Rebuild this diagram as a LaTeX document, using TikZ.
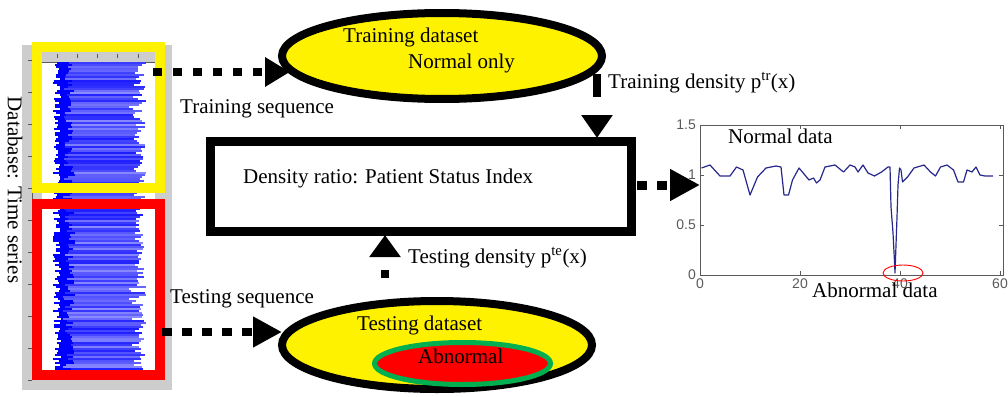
\documentclass[tikz,border=0pt]{standalone}
\usepackage{fontspec}
\setmainfont{Liberation Serif}
\newfontfamily\plotfont{Liberation Sans}
\usetikzlibrary{arrows.meta,shapes.geometric}
\definecolor{sigblue}{RGB}{40,40,140}
\definecolor{tickgray}{RGB}{90,90,90}
\definecolor{panelgray}{RGB}{205,205,205}
\definecolor{mygreen}{RGB}{0,176,80}
\begin{document}
\begin{tikzpicture}[x=1pt,y=-1pt,
  lbl/.style={anchor=base west,inner sep=0pt,font=\fontsize{21}{24}\selectfont},
  ticklbl/.style={inner sep=0pt,font=\plotfont\fontsize{14}{16}\selectfont,text=tickgray},
  dotline/.style={line width=8pt},
  blockline/.style={draw=black,line width=9pt}]
\useasboundingbox (0,0) rectangle (1008,396);

% ---------- left time-series panel ----------
\fill[panelgray] (22,45) rectangle (172,390);
\fill[white] (42,62) rectangle (155,378);
\draw[tickgray,line width=0.8pt] (42,62) -- (155,62);
\draw[tickgray,line width=0.8pt] (32,62) -- (32,380);
\foreach \yy in {60,92,...,380}{\draw[tickgray,line width=0.8pt] (28,\yy) -- (32,\yy);}
\foreach \xx in {57,77,97,117,138}{\draw[tickgray,line width=0.6pt] (\xx,54) -- (\xx,58);}
\pgfmathsetseed{5}
\foreach \yy in {63,65,...,377}{
  \pgfmathsetmacro{\xa}{53+8*rnd}
  \pgfmathsetmacro{\xb}{147-14*rnd*rnd-8*rnd}
  \pgfmathsetmacro{\xc}{63+12*rnd}
  \pgfmathtruncatemacro{\pc}{45+45*rnd}
  \draw[blue!\pc,line width=2pt] (\xa,\yy) -- (\xb,\yy);
  \draw[blue,line width=2pt] (\xa,\yy) -- (\xc,\yy);
}
\node[rotate=-90,inner sep=0pt,font=\fontsize{21}{24}\selectfont] (db) at (15,190) {Database: Time series};
\node[draw=yellow,line width=10pt,minimum width=123pt,minimum height=141pt,inner sep=0pt] (trbox) at (98.5,117.5) {};
\node[draw=red,line width=10pt,minimum width=123pt,minimum height=171pt,inner sep=0pt] (tebox) at (98.5,289.5) {};

% ---------- ellipses ----------
\node[ellipse,draw,line width=8pt,fill=yellow,minimum width=320pt,minimum height=86pt,inner sep=0pt] (trainE) at (442,56) {};
\node[lbl] (trt1) at (343,43) {Training dataset};
\node[lbl] (trt2) at (408,68) {Normal only};

\node[ellipse,draw,line width=8pt,fill=yellow,minimum width=310pt,minimum height=88pt,inner sep=0pt] (testE) at (437,345) {};
\node[ellipse,draw=mygreen,line width=5pt,fill=red,minimum width=176pt,minimum height=42pt,inner sep=0pt] (abE) at (462.5,363.5) {};
\node[lbl] (tet1) at (357,330) {Testing dataset};
\node[lbl] (tet2) at (418,363) {Abnormal};

% ---------- density ratio block ----------
\node[blockline,minimum width=421pt,minimum height=90pt,inner sep=0pt] (dr) at (420.5,186) {};
\node[lbl] (drt) at (243,183) {Density ratio: Patient Status Index};

% ---------- connectors ----------
\coordinate (c1a) at (153,72);
\coordinate (c1b) at (290,72);
\draw[dotline,dash pattern=on 9pt off 11pt,-{Triangle[length=25pt,width=28pt]}] (c1a) -- (c1b);
\node[lbl] (tseq) at (180,113) {Training sequence};

\coordinate (c2a) at (162,332);
\coordinate (c2b) at (282,332);
\draw[dotline,dash pattern=on 10pt off 10pt,-{Triangle[length=29pt,width=29pt]}] (c2a) -- (c2b);
\node[lbl] (teseq) at (170,303) {Testing sequence};

\coordinate (c3a) at (597,74);
\coordinate (c3b) at (597,138);
\draw[dotline,dash pattern=on 23pt off 40pt,-{Triangle[length=23pt,width=30pt]}] (c3a) -- (c3b);
\node[lbl] (trd) at (608,88) {Training density p\textsuperscript{tr}(x)};

\coordinate (c4a) at (385,278);
\coordinate (c4b) at (385,235);
\draw[dotline,dash pattern=on 8pt off 40pt,-{Triangle[length=22pt,width=30pt]}] (c4a) -- (c4b);
\node[lbl] (ted) at (408,263) {Testing density p\textsuperscript{te}(x)};

\coordinate (c5a) at (637,185);
\coordinate (c5b) at (700,185);
\draw[line width=9pt,dash pattern=on 10pt off 10pt,-{Triangle[length=30pt,width=30pt]}] (c5a) -- (c5b);

% ---------- right plot ----------
\draw[tickgray,line width=0.8pt] (700,125) rectangle (1003,275);
\foreach \yy/\lab in {125/1.5,175/1,225/0.5,275/0}{
  \draw[tickgray,line width=0.8pt] (700,\yy) -- (704,\yy) (1003,\yy) -- (999,\yy);
  \node[ticklbl,anchor=east] at (696,\yy) {\lab};
}
\foreach \xx/\lab in {700/0,800/20,900/40,1000/60}{
  \draw[tickgray,line width=0.8pt] (\xx,275) -- (\xx,271) (\xx,125) -- (\xx,129);
  \node[ticklbl,anchor=north] at (\xx,279) {\lab};
}
\draw[sigblue,line width=1.2pt,line join=round]
 (701.5,168) -- (710,165) -- (720,176) -- (730,176) -- (736.5,167) -- (743,170) -- (750,195) -- (757.5,177) -- (766,168) -- (776,166) -- (781,167) -- (784,195) -- (788.5,195) -- (792.5,180) -- (799,168) -- (809,180) -- (813.5,178) -- (816.5,183) -- (820,180) -- (825,167) -- (835,165) -- (843.5,172) -- (850,165) -- (855,167) -- (858,172) -- (863,165) -- (868,173) -- (874.5,176) -- (881.5,172) -- (888,167) -- (890,167) -- (891,207) -- (893,233) -- (894.5,262) -- (895,273) -- (897,217) -- (898,185) -- (899.5,168) -- (901,170) -- (902.5,182) -- (907.5,177) -- (914,168) -- (924,165) -- (930.5,172) -- (935.5,176) -- (940.5,167) -- (947,165) -- (953.5,170) -- (958,182) -- (963.5,182) -- (967,170) -- (972,172) -- (976,167) -- (980,175) -- (985,176) -- (993,176);
\draw[red,line width=0.9pt] (903,273) ellipse [x radius=20pt,y radius=8pt];
\node[lbl] (nd) at (728,143) {Normal data};
\node[lbl] (ad) at (812,297) {Abnormal data};
\end{tikzpicture}
\end{document}
